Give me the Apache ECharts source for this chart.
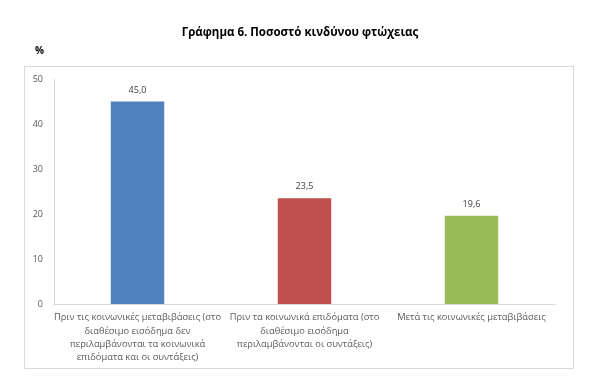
<!DOCTYPE html>
<html><head><meta charset="utf-8">
<script src="https://cdn.jsdelivr.net/npm/echarts@6/dist/echarts.min.js"></script>
<style>html,body{margin:0;padding:0;background:#fff}#c{width:600px;height:392px}</style>
</head><body><div id="c"></div>
<script>
const categories = [
  "Πριν τις κοινωνικές μεταβιβάσεις (στο\nδιαθέσιμο εισόδημα δεν\nπεριλαμβάνονται τα κοινωνικά\nεπιδόματα και οι συντάξεις)",
  "Πριν τα κοινωνικά επιδόματα (στο\nδιαθέσιμο εισόδημα\nπεριλαμβάνονται οι συντάξεις)",
  "Μετά τις κοινωνικές μεταβιβάσεις"
];
const values = [45.0, 23.5, 19.6];
const colors = ["#4F81BD", "#C0504D", "#9BBB59"];
const font = "'Open Sans', 'Noto Sans', sans-serif";
const chart = echarts.init(document.getElementById('c'), null, {renderer: 'canvas'});
chart.setOption({
  animation: false,
  title: {
    text: "Γράφημα 6. Ποσοστό κινδύνου φτώχειας",
    left: 'center', top: 22,
    textStyle: {fontFamily: font, fontSize: 11.5, fontWeight: 'bold', color: '#000'}
  },
  graphic: [
    {type: 'rect', shape: {x: 24.5, y: 66.5, width: 549, height: 302},
     style: {fill: 'none', stroke: '#d9d9d9', lineWidth: 1}, z: -1},
    {type: 'text', left: 35, top: 46,
     style: {text: '%', font: "bold 10px " + font, fill: '#000'}}
  ],
  grid: {left: 54, right: 45, top: 79, bottom: 88},
  xAxis: {
    type: 'category', data: categories,
    axisLine: {lineStyle: {color: '#d9d9d9'}},
    axisTick: {show: false},
    axisLabel: {interval: 0, color: '#595959', fontFamily: font, fontSize: 9.3, lineHeight: 13.3, margin: 7, align: 'center'}
  },
  yAxis: {
    type: 'value', min: 0, max: 50, interval: 10,
    axisLine: {show: true, lineStyle: {color: '#d9d9d9'}},
    axisTick: {show: false},
    splitLine: {show: false},
    axisLabel: {color: '#595959', fontFamily: font, fontSize: 9, margin: 11}
  },
  series: [{
    type: 'bar',
    data: values.map((v, i) => ({value: v, itemStyle: {color: colors[i]}})),
    barWidth: '32%',
    label: {show: true, position: 'top', distance: 7, color: '#404040', fontFamily: font, fontSize: 9,
      formatter: p => p.value.toFixed(1).replace('.', ',')}
  }]
});
</script></body></html>
